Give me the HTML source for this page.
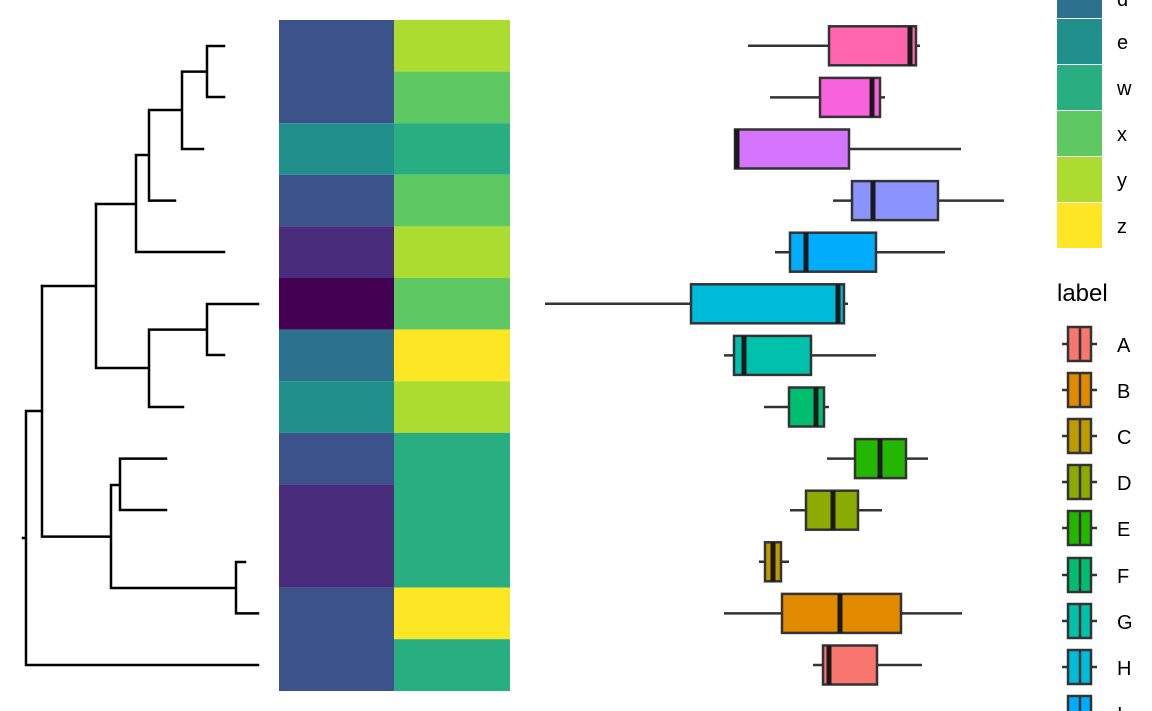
<!DOCTYPE html>
<html><head><style>body{margin:0;background:#fff}svg{display:block}text{font-family:"Liberation Sans",sans-serif;fill:#000}</style></head>
<body>
<svg width="1152" height="711" xmlns="http://www.w3.org/2000/svg">
<rect x="279" y="20" width="115" height="103.2" fill="#3b528b"/>
<rect x="279" y="123.2" width="115" height="51.6" fill="#21908d"/>
<rect x="279" y="174.8" width="115" height="51.6" fill="#3b528b"/>
<rect x="279" y="226.4" width="115" height="51.6" fill="#472d7b"/>
<rect x="279" y="278" width="115" height="51.6" fill="#440154"/>
<rect x="279" y="329.6" width="115" height="51.6" fill="#2c728e"/>
<rect x="279" y="381.2" width="115" height="51.6" fill="#21908d"/>
<rect x="279" y="432.8" width="115" height="51.6" fill="#3b528b"/>
<rect x="279" y="484.4" width="115" height="103.2" fill="#472d7b"/>
<rect x="279" y="587.6" width="115" height="103.4" fill="#3b528b"/>
<rect x="394" y="20" width="116" height="51.6" fill="#addc30"/>
<rect x="394" y="71.6" width="116" height="51.6" fill="#5ec962"/>
<rect x="394" y="123.2" width="116" height="51.6" fill="#28ae80"/>
<rect x="394" y="174.8" width="116" height="51.6" fill="#5ec962"/>
<rect x="394" y="226.4" width="116" height="51.6" fill="#addc30"/>
<rect x="394" y="278" width="116" height="51.6" fill="#5ec962"/>
<rect x="394" y="329.6" width="116" height="51.6" fill="#fde725"/>
<rect x="394" y="381.2" width="116" height="51.6" fill="#addc30"/>
<rect x="394" y="432.8" width="116" height="154.8" fill="#28ae80"/>
<rect x="394" y="587.6" width="116" height="51.6" fill="#fde725"/>
<rect x="394" y="639.2" width="116" height="51.8" fill="#28ae80"/>
<g stroke="#000" stroke-width="2.5" fill="none" stroke-linecap="square">
<path d="M207 46H224M207 97H224M207 46V97M182 71.6H207M182 149H203M182 71.6V149M149 110H182M149 200.6H175M149 110V200.6M136 155H149M136 252H224M136 155V252M96 204H136"/>
<path d="M207 304H258M207 355H224M207 304V355M149 329.6H207M149 407H183M149 329.6V407M96 368H149M96 204V368M42 286H96"/>
<path d="M120 458.6H166M120 510H166M120 458.6V510M111 485H120M236 562H245M236 613.4H258M236 562V613.4M111 588H236M111 485V588M42 536.6H111M42 286V536.6M26 411H42M26 665H258M26 411V665M23 538H26"/>
</g>
<g stroke="#333" stroke-width="2.5">
<line x1="748" x2="920" y1="45.8" y2="45.8"/><rect x="829" y="26.3" width="87" height="39" fill="#FF65AC"/><line x1="910" x2="910" y1="26.3" y2="65.3" stroke="#1a1a1a" stroke-width="5"/>
<line x1="770" x2="885" y1="97.4" y2="97.4"/><rect x="820" y="77.9" width="60" height="39" fill="#F962DD"/><line x1="872" x2="872" y1="77.9" y2="116.9" stroke="#1a1a1a" stroke-width="5"/>
<line x1="735" x2="961" y1="149" y2="149"/><rect x="735" y="129.5" width="114" height="39" fill="#D575FE"/><line x1="737" x2="737" y1="129.5" y2="168.5" stroke="#1a1a1a" stroke-width="5"/>
<line x1="833" x2="1004" y1="200.6" y2="200.6"/><rect x="852" y="181.1" width="86" height="39" fill="#8B93FF"/><line x1="873" x2="873" y1="181.1" y2="220.1" stroke="#1a1a1a" stroke-width="5"/>
<line x1="775" x2="945" y1="252.2" y2="252.2"/><rect x="790" y="232.7" width="86" height="39" fill="#00ACFC"/><line x1="806" x2="806" y1="232.7" y2="271.7" stroke="#1a1a1a" stroke-width="5"/>
<line x1="545" x2="848" y1="303.8" y2="303.8"/><rect x="691" y="284.3" width="153" height="39" fill="#00BBDA"/><line x1="838" x2="838" y1="284.3" y2="323.3" stroke="#1a1a1a" stroke-width="5"/>
<line x1="724" x2="876" y1="355.4" y2="355.4"/><rect x="734" y="335.9" width="77" height="39" fill="#00C1AB"/><line x1="744" x2="744" y1="335.9" y2="374.9" stroke="#1a1a1a" stroke-width="5"/>
<line x1="764" x2="829" y1="407" y2="407"/><rect x="789" y="387.5" width="35" height="39" fill="#00BE70"/><line x1="816" x2="816" y1="387.5" y2="426.5" stroke="#1a1a1a" stroke-width="5"/>
<line x1="827" x2="928" y1="458.6" y2="458.6"/><rect x="855" y="439.1" width="51" height="39" fill="#24B700"/><line x1="880" x2="880" y1="439.1" y2="478.1" stroke="#1a1a1a" stroke-width="5"/>
<line x1="790" x2="882" y1="510.2" y2="510.2"/><rect x="806" y="490.7" width="52" height="39" fill="#8CAB00"/><line x1="833" x2="833" y1="490.7" y2="529.7" stroke="#1a1a1a" stroke-width="5"/>
<line x1="759" x2="789" y1="561.8" y2="561.8"/><rect x="765" y="542.3" width="16" height="39" fill="#BE9C00"/><line x1="773" x2="773" y1="542.3" y2="581.3" stroke="#1a1a1a" stroke-width="5"/>
<line x1="724" x2="962" y1="613.4" y2="613.4"/><rect x="782" y="593.9" width="119" height="39" fill="#E18A00"/><line x1="840" x2="840" y1="593.9" y2="632.9" stroke="#1a1a1a" stroke-width="5"/>
<line x1="813" x2="922" y1="665" y2="665"/><rect x="823" y="645.5" width="54" height="39" fill="#F8766D"/><line x1="829" x2="829" y1="645.5" y2="684.5" stroke="#1a1a1a" stroke-width="5"/>
</g>
<g font-size="20">
<rect x="1057" y="0" width="45" height="18" fill="#2c728e"/><text x="1117" y="6">d</text>
<rect x="1057" y="19" width="45" height="45" fill="#21908d"/><text x="1117" y="49">e</text>
<rect x="1057" y="65" width="45" height="45" fill="#28ae80"/><text x="1117" y="95">w</text>
<rect x="1057" y="111" width="45" height="45" fill="#5ec962"/><text x="1117" y="141">x</text>
<rect x="1057" y="157" width="45" height="45" fill="#addc30"/><text x="1117" y="187">y</text>
<rect x="1057" y="203" width="45" height="45" fill="#fde725"/><text x="1117" y="233">z</text>
<text x="1057" y="301" font-size="24">label</text>
<text x="1117" y="352">A</text><text x="1117" y="398">B</text><text x="1117" y="444">C</text><text x="1117" y="490">D</text><text x="1117" y="536">E</text><text x="1117" y="583">F</text><text x="1117" y="629">G</text><text x="1117" y="675">H</text><text x="1117" y="721">I</text>
</g>
<g stroke="#333" stroke-width="2.5">
<line x1="1062" x2="1097" y1="344" y2="344"/><rect x="1068" y="327" width="23" height="34" fill="#F8766D"/><line x1="1080" x2="1080" y1="327" y2="361"/>
<line x1="1062" x2="1097" y1="390" y2="390"/><rect x="1068" y="373" width="23" height="34" fill="#E18A00"/><line x1="1080" x2="1080" y1="373" y2="407"/>
<line x1="1062" x2="1097" y1="436" y2="436"/><rect x="1068" y="419" width="23" height="34" fill="#BE9C00"/><line x1="1080" x2="1080" y1="419" y2="453"/>
<line x1="1062" x2="1097" y1="482" y2="482"/><rect x="1068" y="465" width="23" height="34" fill="#8CAB00"/><line x1="1080" x2="1080" y1="465" y2="499"/>
<line x1="1062" x2="1097" y1="528" y2="528"/><rect x="1068" y="511" width="23" height="34" fill="#24B700"/><line x1="1080" x2="1080" y1="511" y2="545"/>
<line x1="1062" x2="1097" y1="575" y2="575"/><rect x="1068" y="558" width="23" height="34" fill="#00BE70"/><line x1="1080" x2="1080" y1="558" y2="592"/>
<line x1="1062" x2="1097" y1="621" y2="621"/><rect x="1068" y="604" width="23" height="34" fill="#00C1AB"/><line x1="1080" x2="1080" y1="604" y2="638"/>
<line x1="1062" x2="1097" y1="667" y2="667"/><rect x="1068" y="650" width="23" height="34" fill="#00BBDA"/><line x1="1080" x2="1080" y1="650" y2="684"/>
<line x1="1062" x2="1097" y1="713" y2="713"/><rect x="1068" y="696" width="23" height="34" fill="#00ACFC"/><line x1="1080" x2="1080" y1="696" y2="730"/>
</g>
</svg>
</body></html>
